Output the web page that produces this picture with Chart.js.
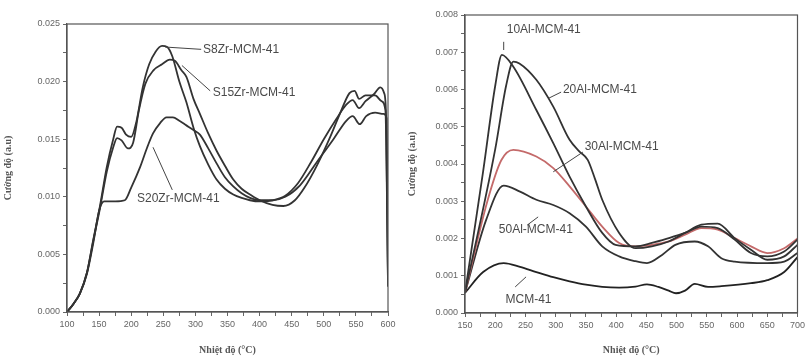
<!DOCTYPE html>
<html>
<head>
<meta charset="utf-8">
<script src="https://cdn.jsdelivr.net/npm/chart.js@4"></script>
<style>
  body { margin: 0; background: #fff; }
  .box { position: absolute; top: 0; width: 404px; height: 358px; }
</style>
</head>
<body>
<div class="box" style="left:0"><canvas id="zrChart" width="404" height="358"></canvas></div>
<div class="box" style="left:404px"><canvas id="alChart" width="404" height="358"></canvas></div>
<script>
// ---- Biểu đồ trái: Zr-MCM-41 ----
const s8Temp = [100, 110, 120, 131, 141, 151, 162, 172, 178, 185, 192, 200, 208, 218, 228, 238, 248, 256, 264, 275, 286, 297, 307, 320, 333, 346, 359, 372, 385, 400, 420, 440, 460, 480, 500, 520, 535, 545, 555, 565, 578, 588, 594, 597, 600];
const s8Val = [0, 0.0007, 0.0016, 0.0034, 0.0063, 0.0091, 0.0126, 0.015, 0.0161, 0.016, 0.0154, 0.0152, 0.0165, 0.0195, 0.0215, 0.0226, 0.0231, 0.023, 0.0222, 0.02, 0.0182, 0.016, 0.0144, 0.0128, 0.0115, 0.0107, 0.0102, 0.0099, 0.0097, 0.0096, 0.0097, 0.0101, 0.0112, 0.013, 0.015, 0.0168, 0.018, 0.0184, 0.0177, 0.0183, 0.0189, 0.0195, 0.019, 0.017, 0.0022];

const s15Temp = [100, 110, 120, 131, 141, 151, 162, 172, 178, 185, 195, 203, 212, 222, 235, 248, 260, 268, 278, 286, 297, 307, 320, 333, 346, 359, 372, 385, 400, 420, 437, 455, 470, 490, 510, 525, 540, 548, 555, 565, 580, 590, 596, 600];
const s15Val = [0, 0.0007, 0.0016, 0.0034, 0.0062, 0.0089, 0.0122, 0.0143, 0.0151, 0.0149, 0.0142, 0.0147, 0.0175, 0.0198, 0.021, 0.0215, 0.0219, 0.0218, 0.021, 0.0204, 0.0185, 0.0172, 0.0155, 0.014, 0.0127, 0.0115, 0.0107, 0.0102, 0.0097, 0.0093, 0.0092, 0.0097, 0.0108, 0.0128, 0.0152, 0.0172, 0.019, 0.0192, 0.0185, 0.0188, 0.0188, 0.0183, 0.0175, 0.0025];

const s20Temp = [100, 110, 120, 131, 141, 150, 158, 175, 190, 200, 214, 225, 234, 245, 255, 265, 275, 286, 297, 307, 320, 333, 346, 359, 372, 385, 400, 420, 440, 463, 489, 515, 535, 545, 556, 566, 580, 593, 598, 600];
const s20Val = [0, 0.0007, 0.0016, 0.0033, 0.006, 0.0088, 0.0096, 0.0096, 0.0097, 0.0108, 0.0126, 0.0143, 0.0155, 0.0164, 0.0169, 0.0169, 0.0166, 0.0162, 0.0158, 0.0154, 0.0142, 0.0129, 0.0117, 0.0109, 0.0103, 0.0099, 0.0097, 0.0097, 0.01, 0.011, 0.013, 0.015, 0.0166, 0.017, 0.0163, 0.017, 0.0173, 0.0172, 0.0168, 0.0023];

const zrNames = ["S8Zr-MCM-41", "S15Zr-MCM-41", "S20Zr-MCM-41"];
// vị trí nhãn (theo đơn vị dữ liệu): nhiệt độ, cường độ
const zrLabelT = [312, 327, 209];
const zrLabelV = [0.0228, 0.019, 0.0098];
// đường chỉ: [T1, V1, T2, V2]
const zrLeader = [[253, 0.023, 309, 0.0228], [279, 0.0214, 323, 0.0192], [234, 0.0143, 264, 0.0106]];

// ---- Biểu đồ phải: Al-MCM-41 ----
const al10Temp = [150, 180, 200, 211, 230, 268, 296, 323, 350, 377, 399, 432, 459, 487, 514, 541, 568, 596, 623, 650, 678, 700];
const al10Val = [0.00054, 0.0038, 0.0061, 0.00693, 0.00661, 0.00545, 0.00456, 0.00366, 0.00286, 0.00215, 0.00183, 0.00179, 0.00188, 0.00201, 0.00215, 0.00232, 0.00228, 0.00197, 0.00161, 0.00152, 0.00165, 0.00197];

const al20Temp = [150, 200, 218, 230, 240, 268, 296, 323, 339, 353, 365, 377, 405, 432, 459, 487, 514, 541, 568, 596, 623, 650, 678, 700];
const al20Val = [0.00054, 0.0044, 0.0061, 0.00675, 0.0067, 0.00626, 0.00554, 0.00465, 0.00434, 0.00411, 0.0036, 0.00304, 0.00215, 0.00174, 0.00179, 0.00192, 0.00215, 0.00237, 0.0024, 0.00201, 0.0017, 0.00143, 0.00152, 0.00183];

const al30Temp = [150, 187, 210, 230, 268, 296, 323, 350, 377, 405, 432, 459, 487, 514, 541, 568, 596, 623, 650, 678, 700];
const al30Val = [0.00054, 0.003, 0.0041, 0.00438, 0.0042, 0.00389, 0.0034, 0.00286, 0.00232, 0.00188, 0.00179, 0.00183, 0.00192, 0.0021, 0.00228, 0.00224, 0.00201, 0.00179, 0.00161, 0.00174, 0.002];

const al50Temp = [150, 185, 214, 241, 268, 296, 323, 350, 377, 405, 432, 451, 476, 498, 530, 552, 574, 596, 650, 678, 700];
const al50Val = [0.00054, 0.0025, 0.00342, 0.00326, 0.00304, 0.0029, 0.00268, 0.00232, 0.00179, 0.00152, 0.00139, 0.00134, 0.00156, 0.00183, 0.00192, 0.00179, 0.00147, 0.00138, 0.00134, 0.00138, 0.00161];

const mcmTemp = [150, 180, 214, 241, 268, 296, 323, 350, 377, 405, 432, 451, 470, 487, 499, 514, 530, 552, 574, 623, 650, 678, 700];
const mcmVal = [0.00054, 0.0011, 0.00134, 0.00124, 0.0011, 0.00096, 0.00085, 0.00076, 0.0007, 0.00068, 0.00071, 0.00077, 0.0007, 0.0006, 0.00053, 0.0006, 0.00078, 0.0007, 0.00072, 0.0008, 0.00088, 0.0011, 0.0015];

const alNames = ["10Al-MCM-41", "20Al-MCM-41", "30Al-MCM-41", "50Al-MCM-41", "MCM-41"];
const alLabelT = [219, 312, 348, 206, 217];
const alLabelV = [0.0076, 0.006, 0.00446, 0.00223, 0.00035];
const alLeader = [[214, 0.00728, 214, 0.00706], [289, 0.00577, 309, 0.00593], [296, 0.00379, 345, 0.00432], [271, 0.00258, 253, 0.00236], [251, 0.00097, 233, 0.0007]];

const yTitle = "Cường độ (a.u)";
const xTitle = "Nhiệt độ (°C)";

// ghép nhiệt độ và giá trị
function pts(t, v) {
  return t.map((x, i) => ({ x: x, y: v[i] }));
}

function ds(t, v, color) {
  return {
    data: pts(t, v),
    borderColor: color,
    borderWidth: 1.8,
    pointRadius: 0,
    fill: false,
    cubicInterpolationMode: "monotone",
  };
}

// khung + nhãn chú thích
function notesPlugin(names, lt, lv, leaders) {
  return {
    id: "notes",
    afterDraw(chart) {
      const c = chart.ctx;
      const a = chart.chartArea;
      const sx = chart.scales.x;
      const sy = chart.scales.y;
      c.save();
      c.strokeStyle = "#555";
      c.lineWidth = 1.2;
      c.strokeRect(a.left, a.top, a.right - a.left, a.bottom - a.top);
      c.strokeStyle = "#444";
      c.lineWidth = 1;
      leaders.forEach((l) => {
        c.beginPath();
        c.moveTo(sx.getPixelForValue(l[0]), sy.getPixelForValue(l[1]));
        c.lineTo(sx.getPixelForValue(l[2]), sy.getPixelForValue(l[3]));
        c.stroke();
      });
      c.fillStyle = "#4a4a4a";
      c.font = "12px 'Liberation Sans', Arial, sans-serif";
      c.textBaseline = "middle";
      names.forEach((n, i) => {
        c.fillText(n, sx.getPixelForValue(lt[i]), sy.getPixelForValue(lv[i]));
      });
      c.restore();
    },
  };
}

function near(v, step) {
  return Math.abs(v / step - Math.round(v / step)) < 1e-6;
}

function opts(xMin, xMax, yMax, yStep, yLab, pad, yW, xH) {
  return {
    responsive: false,
    animation: false,
    layout: { padding: pad },
    plugins: { legend: { display: false }, tooltip: { enabled: false } },
    scales: {
      x: {
        type: "linear",
        min: xMin,
        max: xMax,
        afterFit(s) { s.height = xH; },
        border: { color: "#555", width: 1.2 },
        grid: { drawOnChartArea: false, tickLength: 4, color: "#666" },
        ticks: {
          stepSize: 25,
          maxRotation: 0,
          autoSkip: false,
          padding: 3,
          color: "#666",
          font: { family: "'Liberation Sans', Arial", size: 9 },
          callback: (v) => (near(v, 50) ? String(v) : ""),
        },
        title: {
          display: true,
          text: xTitle,
          color: "#555",
          font: { family: "'Liberation Serif', serif", size: 10, weight: "bold" },
          padding: { top: 0, bottom: 2 },
        },
      },
      y: {
        min: 0,
        max: yMax,
        afterFit(s) { s.width = yW; },
        border: { color: "#555", width: 1.2 },
        grid: { drawOnChartArea: false, tickLength: 4, color: "#666" },
        ticks: {
          stepSize: yStep,
          autoSkip: false,
          padding: 3,
          color: "#666",
          font: { family: "'Liberation Sans', Arial", size: 9 },
          callback: (v) => (near(v, yLab) ? v.toFixed(3) : ""),
        },
        title: {
          display: true,
          text: yTitle,
          color: "#555",
          font: { family: "'Liberation Serif', serif", size: 10, weight: "bold" },
          padding: { top: 2, bottom: 0 },
        },
      },
    },
  };
}

const dark = "#333333";

new Chart(document.getElementById("zrChart").getContext("2d"), {
  type: "line",
  data: {
    datasets: [
      ds(s8Temp, s8Val, dark),
      ds(s15Temp, s15Val, dark),
      ds(s20Temp, s20Val, dark),
    ],
  },
  options: opts(100, 600, 0.025, 0.0025, 0.005, { top: 24, right: 16, left: 0, bottom: 0 }, 67, 46),
  plugins: [notesPlugin(zrNames, zrLabelT, zrLabelV, zrLeader)],
});

new Chart(document.getElementById("alChart").getContext("2d"), {
  type: "line",
  data: {
    datasets: [
      ds(al10Temp, al10Val, dark),
      ds(al20Temp, al20Val, dark),
      ds(al30Temp, al30Val, "#c46a6a"),
      ds(al50Temp, al50Val, dark),
      ds(mcmTemp, mcmVal, "#222222"),
    ],
  },
  options: opts(150, 700, 0.008, 0.0005, 0.001, { top: 15, right: 7, left: 0, bottom: 0 }, 61, 45),
  plugins: [notesPlugin(alNames, alLabelT, alLabelV, alLeader)],
});
</script>
</body>
</html>
